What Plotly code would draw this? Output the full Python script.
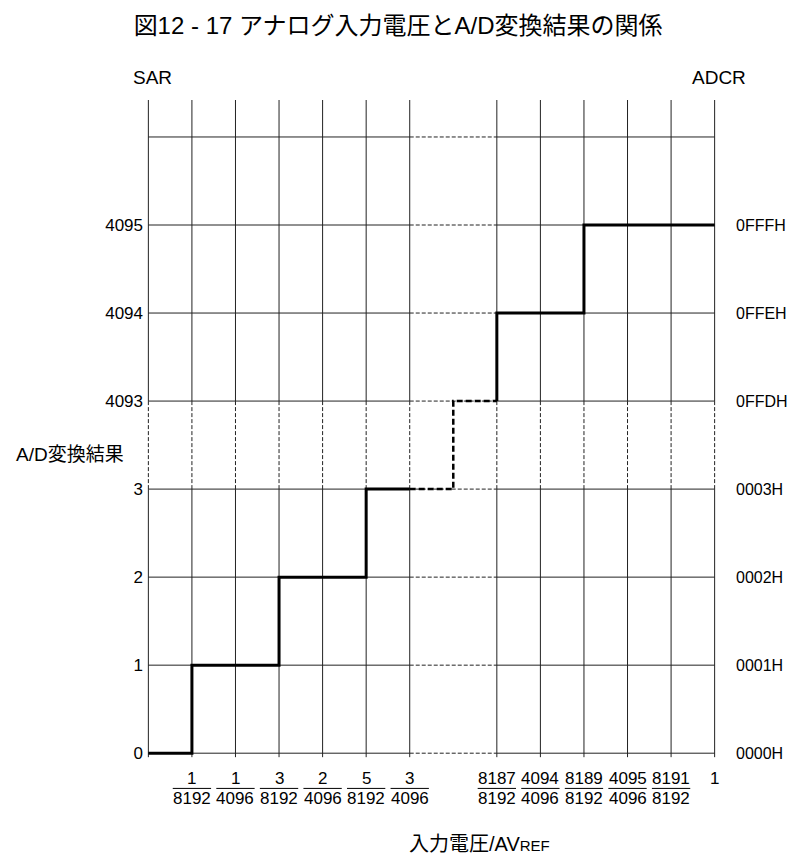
import plotly.graph_objects as go

# ---------------- data ----------------
sar_codes = ["0", "1", "2", "3", "4093", "4094", "4095"]
adcr_codes = ["0000H", "0001H", "0002H", "0003H", "0FFDH", "0FFEH", "0FFFH"]
row_index = [0, 1, 2, 3, 4, 5, 6]          # row of each code
grid_rows = [0, 1, 2, 3, 4, 5, 6, 7]       # horizontal grid rows
grid_cols = [0, 1, 2, 3, 4, 5, 6, 8, 9, 10, 11, 12, 13]  # vertical grid columns
x_tick_pos = [1, 2, 3, 4, 5, 6, 8, 9, 10, 11, 12, 13]
x_num = ["1", "1", "3", "2", "5", "3", "8187", "4094", "8189", "4095", "8191", "1"]
x_den = ["8192", "4096", "8192", "4096", "8192", "4096", "8192", "4096", "8192", "4096", "8192", ""]

# conversion result staircase (column, row)
step_low_x = [0, 1, 3, 5, 6]
step_low_y = [0, 1, 2, 3, 3]
step_gap_x = [6, 7, 8]
step_gap_y = [3, 4, 4]
step_high_x = [8, 8, 10, 13]
step_high_y = [4, 5, 6, 6]

gap_cols = (6, 8)        # broken (dashed) column range
gap_rows = (3, 4)        # broken (dashed) row range

FONT = "Liberation Sans, Arial, Noto Sans CJK JP, sans-serif"
X0, X1 = -0.1, 13.1
Y0, Y1 = -0.1, 7.42
Y_BOTTOM = -0.045

def xp(u):
    return (u - X0) / (X1 - X0)

def yp(r):
    return (r - Y0) / (Y1 - Y0)

fig = go.Figure()

def seg_trace(xs, ys, width=1, dash="solid", color="#222"):
    fig.add_trace(go.Scatter(x=xs, y=ys, mode="lines", cliponaxis=False,
                             line=dict(color=color, width=width, dash=dash),
                             hoverinfo="skip", showlegend=False))

# horizontal grid lines
hx, hy, dx, dy = [], [], [], []
for r in grid_rows:
    hx += [grid_cols[0], gap_cols[0], None, gap_cols[1], grid_cols[-1], None]
    hy += [r, r, None, r, r, None]
    dx += [gap_cols[0], gap_cols[1], None]
    dy += [r, r, None]
seg_trace(hx, hy)
seg_trace(dx, dy, dash="4px,2px")

# vertical grid lines
vx, vy, vdx, vdy = [], [], [], []
for c in grid_cols:
    vx += [c, c, None, c, c, None]
    vy += [Y_BOTTOM, gap_rows[0], None, gap_rows[1], Y1, None]
    vdx += [c, c, None]
    vdy += [gap_rows[0], gap_rows[1], None]
seg_trace(vx, vy)
seg_trace(vdx, vdy, dash="4px,2px")

# staircase
fig.add_trace(go.Scatter(x=step_low_x, y=step_low_y, mode="lines", line_shape="hv",
                         line=dict(color="black", width=3), showlegend=False, cliponaxis=False))
fig.add_trace(go.Scatter(x=step_gap_x, y=step_gap_y, mode="lines", line_shape="hv",
                         line=dict(color="black", width=2.5, dash="6px,3px"), showlegend=False, cliponaxis=False))
fig.add_trace(go.Scatter(x=step_high_x, y=step_high_y, mode="lines", line_shape="hv",
                         line=dict(color="black", width=3), showlegend=False, cliponaxis=False))

# right axis labels
fig.add_trace(go.Scatter(x=[0], y=[0], yaxis="y2", mode="markers", marker=dict(opacity=0),
                         showlegend=False, hoverinfo="skip"))

ann = []
shapes = []
TXT = dict(size=16, family=FONT, color="black")
FRAC = dict(size=17, family=FONT, color="black")

def note(u, r, text, font):
    ann.append(dict(x=xp(u), y=yp(r), xref="paper", yref="paper", text=text,
                    xanchor="center", yanchor="middle", showarrow=False, font=font))

for pos, n, d in zip(x_tick_pos, x_num, x_den):
    note(pos, -0.29, n, FRAC)
    if d:
        note(pos, -0.52, d, FRAC)
        shapes.append(dict(type="line", xref="paper", yref="paper",
                           x0=xp(pos - 0.44), x1=xp(pos + 0.44),
                           y0=yp(-0.40), y1=yp(-0.40),
                           line=dict(color="black", width=1)))

note(0.09, 7.68, "SAR", dict(size=19, family=FONT, color="black"))
note(13.1, 7.68, "ADCR", dict(size=19, family=FONT, color="black"))
note(-1.8, 3.39, "A/D変換結果", dict(size=19, family=FONT, color="black"))
note(7.6, -1.03, "入力電圧/AV<span style='font-size:15px'>REF</span>",
     dict(size=20, family=FONT, color="black"))

fig.update_layout(
    width=801, height=857,
    margin=dict(l=136, r=90, t=92, b=103),
    paper_bgcolor="white", plot_bgcolor="white",
    title=dict(text="図12 - 17 アナログ入力電圧とA/D変換結果の関係", x=0.487, y=1 - 18 / 857,
               xanchor="center", yanchor="middle",
               font=dict(size=24, family=FONT, color="black")),
    xaxis=dict(range=[X0, X1], showgrid=False, zeroline=False, showticklabels=False,
               showline=False, ticks=""),
    yaxis=dict(range=[Y0, Y1], showgrid=False, zeroline=False, showline=False, ticks="",
               tickvals=row_index, ticktext=sar_codes,
               tickfont=dict(size=17, family=FONT, color="black")),
    yaxis2=dict(range=[Y0, Y1], overlaying="y", side="right", showgrid=False, zeroline=False,
                showline=False, ticks="", tickvals=row_index, ticktext=adcr_codes,
                ticklabelstandoff=16,
                tickfont=TXT),
    annotations=ann, shapes=shapes,
)

fig.write_html("out.html")
